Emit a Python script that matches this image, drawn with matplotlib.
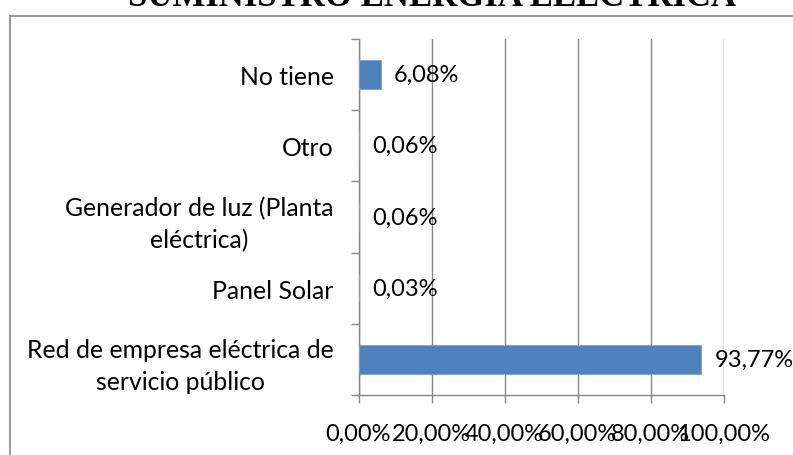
import matplotlib
matplotlib.use("Agg")
import matplotlib.pyplot as plt
from matplotlib.lines import Line2D
import numpy as np

categories = ["Red de empresa eléctrica de\nservicio público", "Panel Solar",
              "Generador de luz (Planta\neléctrica)", "Otro", "No tiene"]
values = [93.77, 0.03, 0.06, 0.06, 6.08]
value_labels = ["93,77%", "0,03%", "0,06%", "0,06%", "6,08%"]
xticks = [0, 20, 40, 60, 80, 100]
xtick_labels = ["0,00%", "20,00%", "40,00%", "60,00%", "80,00%", "100,00%"]
title = "SUMINISTRO ENERGIA ELECTRICA"

W, H = 793, 456
fig = plt.figure(figsize=(W / 100, H / 100), dpi=100)
plt.rcParams['font.family'] = ['Lato', 'DejaVu Sans']
FS = 17
gray = "#868686"

ax = fig.add_axes([358.5 / W, 1 - 396 / H, (724 - 358.5) / W, (396 - 40) / H])
y = np.arange(len(categories))
ax.barh(y, values, height=0.4, color="#4F81BD", edgecolor="#7EA1CF", linewidth=0.6, zorder=3)
for yi, v, lab in zip(y, values, value_labels):
    ax.annotate(lab, (v, yi), xytext=(9.5, 0), textcoords="offset points",
                va="center", ha="left", fontsize=FS, color="black")

ax.set_xlim(0, 100)
ax.set_ylim(-0.5, len(categories) - 0.5)
ax.set_xticks(xticks)
ax.set_xticklabels(xtick_labels, fontsize=FS)
ax.set_yticks(y)
ax.set_yticklabels(categories, fontsize=17.8, multialignment="center", linespacing=1.45)
ax.set_yticks(np.arange(-0.5, len(categories)), minor=True)
ax.tick_params(axis="y", which="major", length=0, pad=18)
ax.tick_params(axis="y", which="minor", length=6, color=gray, width=1)
ax.tick_params(axis="x", which="major", length=6, color=gray, width=1, pad=14)
ax.grid(axis="x", color=gray, linewidth=1, zorder=0)
for s in ["top", "right"]:
    ax.spines[s].set_visible(False)
for s in ["left", "bottom"]:
    ax.spines[s].set_color(gray)
    ax.spines[s].set_linewidth(1)

# outer frame (partially visible)
fig.add_artist(Line2D([9.5 / W, 1], [1 - 17 / H, 1 - 17 / H], color=gray, linewidth=1.2,
                      transform=fig.transFigure))
fig.add_artist(Line2D([9.5 / W, 9.5 / W], [0, 1 - 17 / H], color=gray, linewidth=1.2,
                      transform=fig.transFigure))

fig.text(432.5 / W, 1 - 5.5 / H, title, ha="center", va="baseline", fontsize=25,
         fontweight="bold", family=["Liberation Serif", "DejaVu Serif"])

fig.savefig("out.png", dpi=100)
